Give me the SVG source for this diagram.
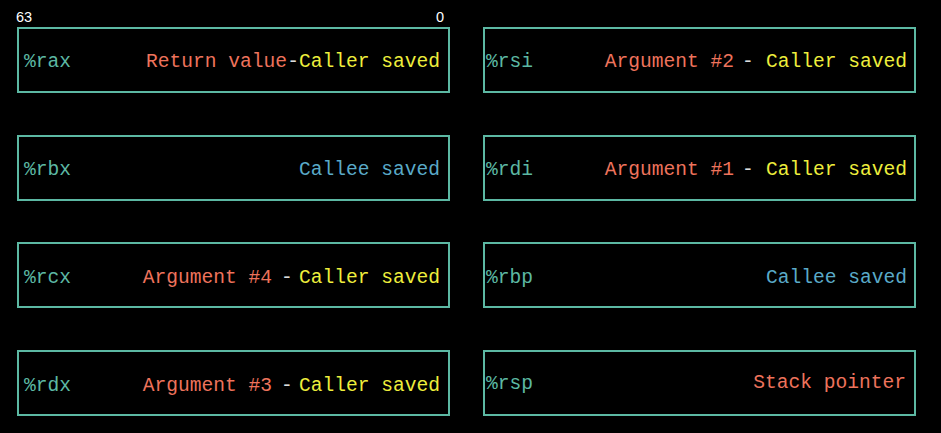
<svg xmlns="http://www.w3.org/2000/svg" width="941" height="433" viewBox="0 0 941 433">
<style>
.box{fill:#000;stroke:#5cb8a3;stroke-width:2}
text{font-family:"Liberation Mono","DejaVu Sans Mono",monospace;font-size:19.6px}
.reg{fill:#5cb8a3}
.red{fill:#ee735c}
.yel{fill:#eeee3c}
.blu{fill:#5aaac8}
.dash{fill:#dddddd}
.bit{font-family:"Liberation Sans",Arial,sans-serif;font-size:14.5px;fill:#fff}
.e{text-anchor:end}
</style>
<rect x="0" y="0" width="941" height="433" fill="#000"/>
<text class="bit" x="16" y="22">63</text>
<text class="bit" x="436" y="22">0</text>
<g id="rax">
<rect class="box" x="18" y="28" width="431" height="64"/>
<text class="reg" x="24" y="67">%rax</text>
<text class="e" x="440" y="67"><tspan class="red">Return value</tspan><tspan class="dash">-</tspan><tspan class="yel">Caller saved</tspan></text>
</g>
<g id="rbx">
<rect class="box" x="18" y="136" width="431" height="64"/>
<text class="reg" x="24" y="175">%rbx</text>
<text class="blu e" x="440" y="175">Callee saved</text>
</g>
<g id="rcx">
<rect class="box" x="18" y="243" width="431" height="64"/>
<text class="reg" x="24" y="283">%rcx</text>
<text class="red e" x="272" y="283">Argument #4</text>
<text class="dash" x="281" y="283">-</text>
<text class="yel e" x="440" y="283">Caller saved</text>
</g>
<g id="rdx">
<rect class="box" x="18" y="351" width="431" height="64"/>
<text class="reg" x="24" y="391">%rdx</text>
<text class="red e" x="272" y="391">Argument #3</text>
<text class="dash" x="281" y="391">-</text>
<text class="yel e" x="440" y="391">Caller saved</text>
</g>
<g id="rsi">
<rect class="box" x="484" y="28" width="431" height="64"/>
<text class="reg" x="486" y="67">%rsi</text>
<text class="red e" x="734" y="67">Argument #2</text>
<text class="dash" x="742" y="67">-</text>
<text class="yel e" x="907" y="67">Caller saved</text>
</g>
<g id="rdi">
<rect class="box" x="484" y="136" width="431" height="64"/>
<text class="reg" x="486" y="175">%rdi</text>
<text class="red e" x="734" y="175">Argument #1</text>
<text class="dash" x="742" y="175">-</text>
<text class="yel e" x="907" y="175">Caller saved</text>
</g>
<g id="rbp">
<rect class="box" x="484" y="243" width="431" height="64"/>
<text class="reg" x="486" y="283">%rbp</text>
<text class="blu e" x="907" y="283">Callee saved</text>
</g>
<g id="rsp">
<rect class="box" x="484" y="351" width="431" height="64"/>
<text class="reg" x="486" y="389">%rsp</text>
<text class="red e" x="906" y="388">Stack pointer</text>
</g>
<g id="connectors"></g>
</svg>
